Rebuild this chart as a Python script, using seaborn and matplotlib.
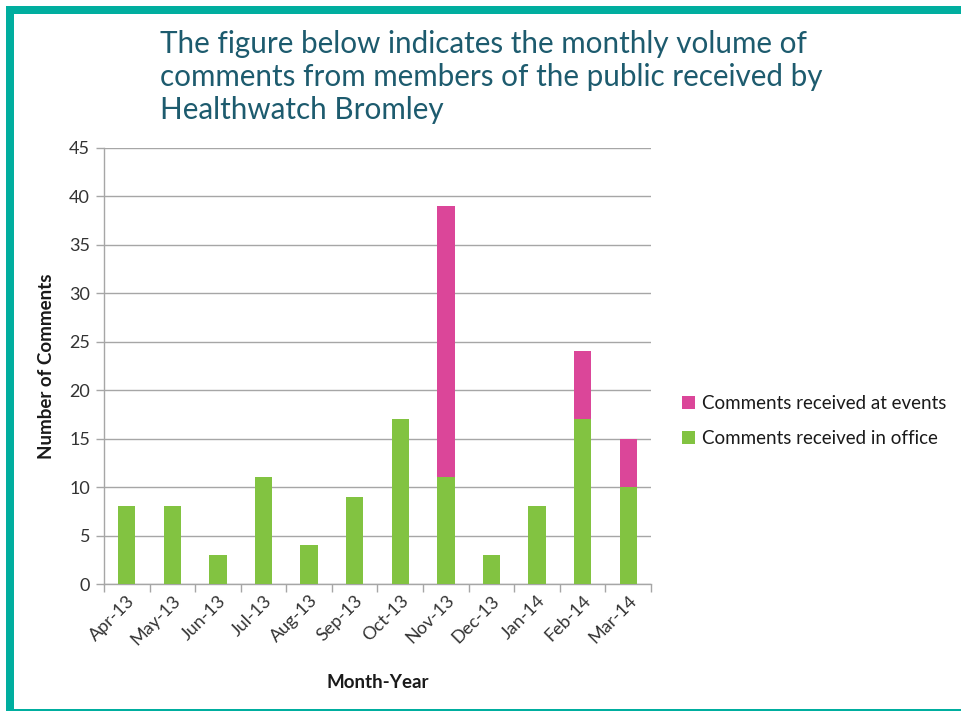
import matplotlib
matplotlib.use("Agg")
import matplotlib.pyplot as plt
import seaborn as sns
import pandas as pd
from matplotlib.patches import Rectangle, Patch

months = ["Apr-13", "May-13", "Jun-13", "Jul-13", "Aug-13", "Sep-13",
          "Oct-13", "Nov-13", "Dec-13", "Jan-14", "Feb-14", "Mar-14"]
office = [8, 8, 3, 11, 4, 9, 17, 11, 3, 8, 17, 10]
events = [0, 0, 0, 0, 0, 0, 0, 28, 0, 0, 7, 5]
yticks = [0, 5, 10, 15, 20, 25, 30, 35, 40, 45]

GREEN = "#82c341"
PINK = "#db4699"
TEAL = "#00ae9f"
TITLE_C = "#1d5b6e"
GRID = "#a6a6a6"

sns.set_theme(style="white")
plt.rcParams["font.family"] = ["Lato", "DejaVu Sans"]

df = pd.DataFrame({"month": months, "office": office, "events": events})
df["total"] = df["office"] + df["events"]

fig = plt.figure(figsize=(9.61, 7.11), dpi=100)
ax = fig.add_axes([0.1082, 0.1786, 0.5692, 0.6139])

sns.barplot(data=df, x="month", y="total", color=PINK, width=0.38,
            saturation=1, ax=ax, zorder=3, linewidth=0)
sns.barplot(data=df, x="month", y="office", color=GREEN, width=0.38,
            saturation=1, ax=ax, zorder=3, linewidth=0)

ax.set_xlim(-0.5, len(months) - 0.5)
ax.set_ylim(0, 45)
ax.set_yticks(yticks)
ax.set_yticklabels([str(v) for v in yticks], fontsize=13, color="#333333")
ax.yaxis.grid(True, color=GRID, linewidth=1.0, zorder=0)
ax.xaxis.grid(False)
ax.set_axisbelow(True)

ax.set_xticks(range(len(months)))
ax.set_xticklabels(months, rotation=45, ha="right", rotation_mode="anchor",
                   fontsize=13, color="#333333")
ax.tick_params(axis="x", which="major", length=0, pad=6)
ax.set_xticks([i - 0.5 for i in range(len(months) + 1)], minor=True)
ax.tick_params(axis="x", which="minor", length=6, color=GRID, width=1, bottom=True)
ax.tick_params(axis="y", which="major", length=6, color=GRID, width=1, left=True, pad=4)

for s in ["top", "right"]:
    ax.spines[s].set_visible(False)
for s in ["left", "bottom"]:
    ax.spines[s].set_color(GRID)
    ax.spines[s].set_linewidth(1.0)

ax.set_xlabel("Month-Year", fontsize=13.5, fontweight="bold", color="#1a1a1a", labelpad=19)
ax.set_ylabel("Number of Comments", fontsize=13.5, fontweight="bold", color="#1a1a1a", labelpad=10)

handles = [Patch(facecolor=PINK, edgecolor="none", label="Comments received at events"),
           Patch(facecolor=GREEN, edgecolor="none", label="Comments received in office")]
fig.legend(handles=handles, loc="center left", bbox_to_anchor=(0.692, 0.408),
           frameon=False, fontsize=13.5, handlelength=0.7, handleheight=0.7,
           handletextpad=0.35, labelspacing=0.95, labelcolor="#1a1a1a")

fig.text(0.166, 0.958, "The figure below indicates the monthly volume of\n"
         "comments from members of the public received by\nHealthwatch Bromley",
         fontsize=21.3, color=TITLE_C, va="top", ha="left", linespacing=1.23)

# slide frame
H = 711.0
W = 961.0
fig.patches.append(Rectangle((6 / W, 0), 8 / W, (H - 6) / H, transform=fig.transFigure,
                             facecolor=TEAL, edgecolor="none", zorder=0))
fig.patches.append(Rectangle((6 / W, (H - 14) / H), 1 - 6 / W, 8 / H, transform=fig.transFigure,
                             facecolor=TEAL, edgecolor="none", zorder=0))
fig.patches.append(Rectangle((6 / W, 0.5 / H), 1 - 6 / W, 1.5 / H, transform=fig.transFigure,
                             facecolor=TEAL, edgecolor="none", zorder=0))

fig.savefig("out.png", dpi=100)
